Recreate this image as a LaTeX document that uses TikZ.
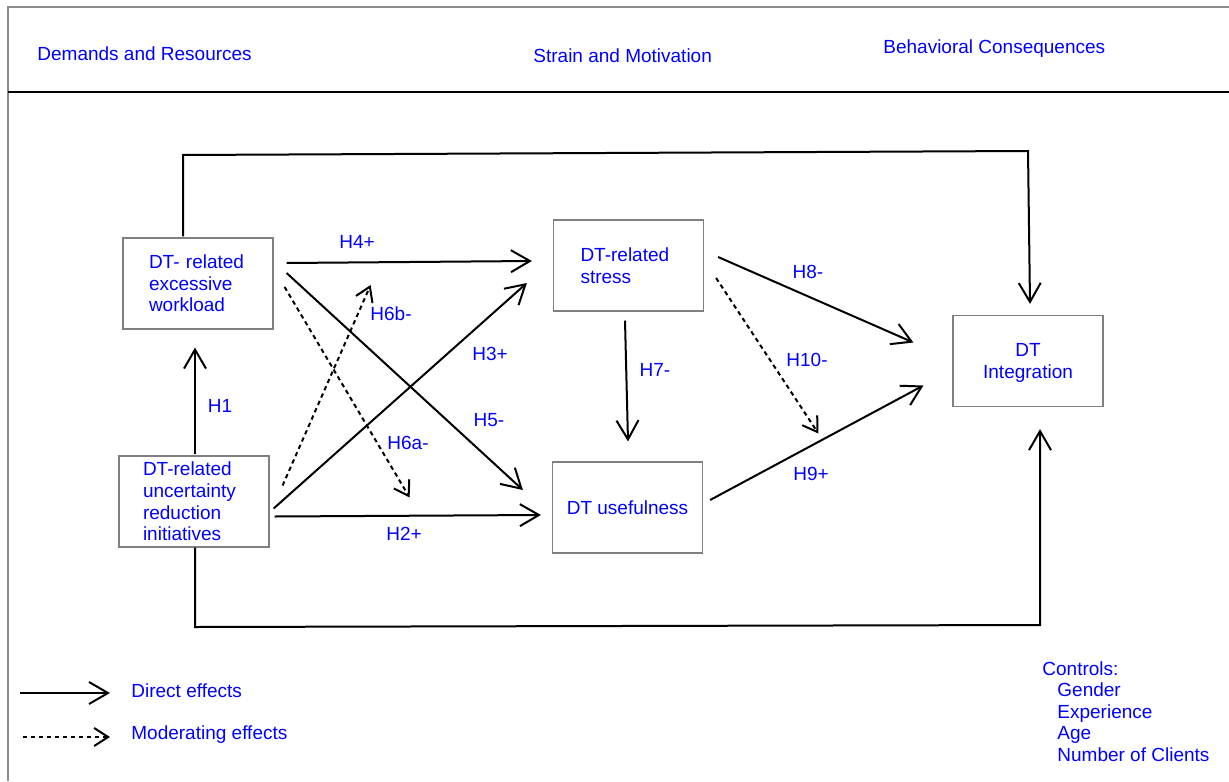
\documentclass[tikz,border=0pt]{standalone}
\usepackage{fontspec}
\setmainfont{Liberation Sans}
\usetikzlibrary{arrows.meta,calc}
\begin{document}
\begin{tikzpicture}[x=0.5pt,y=-0.5pt,
  txt/.style={text=blue, font=\fontsize{9.5}{10.8}\selectfont, inner sep=0pt},
  box/.style={draw=black!50, line width=0.6pt, minimum width=75pt, minimum height=45.5pt, txt},
  direct/.style={draw=black, line width=1pt, -{Straight Barb[length=9.5pt,width=11pt]}},
  moder/.style={draw=black, line width=1pt, dash pattern=on 2.2pt off 1.8pt, -{Straight Barb[length=7pt,width=9pt]}}
]
\useasboundingbox (0,0) rectangle (1229,781);
\fill[white] (0,0) rectangle (1229,781);
% frame and header rule
\draw[black!45, line width=0.6pt] (1229,7) -- (8,7) -- (8,781);
\draw[line width=1pt] (8,92) -- (1229,92);

% headers
\node[txt, anchor=base west] (hdA) at (37,61) {Demands and Resources};
\node[txt, anchor=base west] (hdB) at (533,63) {Strain and Motivation};
\node[txt, anchor=base west] (hdC) at (883,54) {Behavioral Consequences};

% boxes
\node[box, text width=49pt, inner xsep=13pt, align=left] (W) at (198,283.5) {DT- related\\excessive\\workload};
\node[box, text width=51pt, inner xsep=12pt, align=left] (U) at (194,501.5) {DT-related\\uncertainty\\reduction\\initiatives};
\node[box, text width=48pt, inner xsep=13.5pt, align=left] (S) at (628.5,265.5) {DT-related\\stress};
\node[box, align=center] (F) at (627.5,507.5) {DT usefulness};
\node[box, align=center, text depth=-1pt] (I) at (1028,361) {DT\\Integration};

% direct effects
\draw[direct] ($(W.north)+(-15,-1)$) -- (183,155) -- (1028,151) -- ($(I.north)+(2,-11)$);
\draw[direct] ($(U.south)+(1,0)$) -- (195,627) -- (1040,625) -- ($(I.south)+(12,22)$);
\draw[direct] ($(U.north)+(1,-1)$) -- ($(W.south)+(-3,18)$);
\draw[direct] ($(W.east)+(13,-20.5)$) -- ($(S.west)+(-21,-4.5)$);
\draw[direct] ($(W.east)+(13,-10.5)$) -- ($(F.west)+(-29,-17.5)$);
\draw[direct] ($(U.east)+(4,7)$) -- ($(S.west)+(-26,17.5)$);
\draw[direct] ($(U.east)+(5,15)$) -- ($(F.west)+(-11,7.5)$);
\draw[direct] ($(S.south)+(-3.5,9)$) -- ($(F.north)+(0.5,-20)$);
\draw[direct] ($(S.east)+(14,-8.5)$) -- ($(I.west)+(-39,-18.5)$);
\draw[direct] ($(F.east)+(7,-7.5)$) -- ($(I.west)+(-29,24.5)$);

% moderating effects
\draw[moder] ($(U.east)+(13,-16)$) -- ($(W.east)+(97,1.5)$);
\draw[moder] ($(W.east)+(11,3.5)$) -- ($(U.east)+(140,-4)$);
\draw[moder] ($(S.east)+(12,12.5)$) -- ($(I.west)+(-134,72.5)$);

% labels
\node[txt] (lH1) at (220,406) {H1};
\node[txt] (lH4) at (357,242) {H4+};
\node[txt] (lH6b) at (391,314) {H6b-};
\node[txt] (lH3) at (490,354) {H3+};
\node[txt] (lH5) at (489,420) {H5-};
\node[txt] (lH6a) at (408,443) {H6a-};
\node[txt] (lH2) at (404,534) {H2+};
\node[txt] (lH7) at (655,370) {H7-};
\node[txt] (lH8) at (808,272) {H8-};
\node[txt] (lH10) at (807,360) {H10-};
\node[txt] (lH9) at (811,474) {H9+};

% legend
\coordinate (la1) at (20,693);
\coordinate (la2) at (110,693);
\coordinate (lb1) at (23,737);
\coordinate (lb2) at (110,737);
\draw[direct] (la1) -- (la2);
\draw[moder] (lb1) -- (lb2);
\node[txt, anchor=base west] (legA) at (131,697) {Direct effects};
\node[txt, anchor=base west] (legB) at (131,739) {Moderating effects};

% controls
\node[txt, anchor=north west, align=left] (ctrl) at (1042,661) {Controls:\\\hspace*{7.5pt}Gender\\\hspace*{7.5pt}Experience\\\hspace*{7.5pt}Age\\\hspace*{7.5pt}Number of Clients};
\end{tikzpicture}
\end{document}
